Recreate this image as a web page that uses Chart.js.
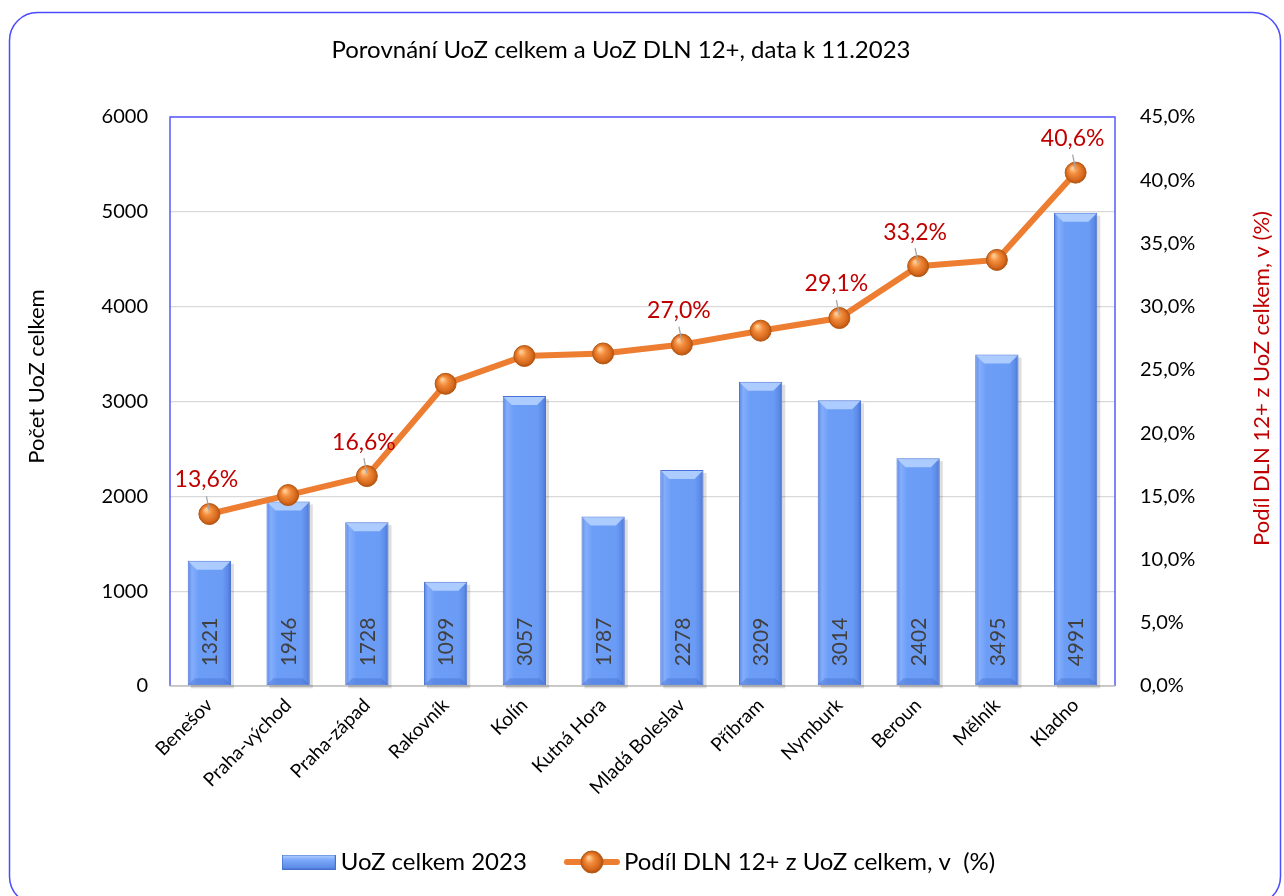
<!DOCTYPE html>
<html lang="cs">
<head>
<meta charset="utf-8">
<title>Porovnání UoZ celkem a UoZ DLN 12+</title>
<script src="https://cdn.jsdelivr.net/npm/chart.js@4.4.1/dist/chart.umd.min.js"></script>
<style>
  html, body { margin: 0; padding: 0; background: #fff; }
  #wrap { width: 1284px; height: 896px; }
</style>
</head>
<body>
<div id="wrap"><canvas id="chartUoz" width="1284" height="896"></canvas></div>
<script>
const categories = ['Benešov', 'Praha-východ', 'Praha-západ', 'Rakovník', 'Kolín', 'Kutná Hora',
    'Mladá Boleslav', 'Příbram', 'Nymburk', 'Beroun', 'Mělník', 'Kladno'];
const uozCelkem = [1321, 1946, 1728, 1099, 3057, 1787, 2278, 3209, 3014, 2402, 3495, 4991];
const podilDln = [13.6, 15.1, 16.6, 23.9, 26.1, 26.3, 27.0, 28.1, 29.1, 33.2, 33.7, 40.6];
// points that carry a percentage label in the original
const labeledPoints = [0, 2, 6, 8, 9, 11];

const chartTitle = 'Porovnání UoZ celkem a UoZ DLN 12+, data k 11.2023';
const leftTitle = 'Počet UoZ celkem';
const rightTitle = 'Podíl DLN 12+ z UoZ celkem, v (%)';

const FONT = 'Lato, "Open Sans", sans-serif';
const ORANGE = '#ED7D31';
const RED = '#C00000';
const BAR_PCT = 0.55;

Chart.defaults.font.family = FONT;

const fmtPct = (v) => v.toFixed(1).replace('.', ',') + '%';

function barFill(ctx) {
    const chart = ctx.chart;
    const xs = chart.scales.x;
    if (ctx.type !== 'data' || !xs || !chart.chartArea) return '#6b9cf5';
    const cx = xs.getPixelForValue(ctx.dataIndex);
    const half = xs.width / categories.length * BAR_PCT / 2;
    const g = chart.ctx.createLinearGradient(cx - half, 0, cx + half, 0);
    g.addColorStop(0, '#5a86e0');
    g.addColorStop(0.1, '#84aefc');
    g.addColorStop(0.25, '#6d9ef7');
    g.addColorStop(0.8, '#6a9bf5');
    g.addColorStop(0.92, '#5c8be8');
    g.addColorStop(1, '#4a72cf');
    return g;
}

function ballGradient(c, x, y, r) {
    const g = c.createRadialGradient(x - r * 0.3, y - r * 0.4, 1, x, y, r);
    g.addColorStop(0, '#ffc990');
    g.addColorStop(0.35, '#f28c3c');
    g.addColorStop(0.8, '#d4661b');
    g.addColorStop(1, '#a94b0c');
    return g;
}

function ballFill(ctx) {
    const chart = ctx.chart;
    if (ctx.type !== 'data' || !chart.scales.y1 || !chart.chartArea) return ORANGE;
    const x = chart.scales.x.getPixelForValue(ctx.dataIndex);
    const y = chart.scales.y1.getPixelForValue(podilDln[ctx.dataIndex]);
    return ballGradient(chart.ctx, x, y, 11);
}

function makeBarIcon() {
    const c = document.createElement('canvas');
    c.width = 54; c.height = 15;
    const g = c.getContext('2d');
    const grad = g.createLinearGradient(0, 0, 0, 15);
    grad.addColorStop(0, '#bcd5ff');
    grad.addColorStop(0.35, '#7eaafb');
    grad.addColorStop(1, '#5585e3');
    g.fillStyle = grad;
    g.fillRect(0.5, 0.5, 53, 14);
    g.strokeStyle = '#4670cf';
    g.strokeRect(0.5, 0.5, 53, 14);
    return c;
}

function makeLineIcon() {
    const c = document.createElement('canvas');
    c.width = 58; c.height = 26;
    const g = c.getContext('2d');
    g.strokeStyle = ORANGE;
    g.lineWidth = 6;
    g.lineCap = 'round';
    g.beginPath(); g.moveTo(4, 13); g.lineTo(54, 13); g.stroke();
    g.beginPath(); g.arc(29, 13, 11, 0, Math.PI * 2);
    g.fillStyle = ballGradient(g, 29, 13, 11);
    g.fill();
    g.strokeStyle = '#b35a14'; g.lineWidth = 1; g.stroke();
    return c;
}

const barIcon = makeBarIcon();
const lineIcon = makeLineIcon();

// rounded outer frame, title, plot area border
const frame = {
    id: 'frame',
    beforeDraw(chart) {
        const c = chart.ctx;
        c.save();
        c.strokeStyle = '#4b4bff';
        c.lineWidth = 1.5;
        c.beginPath();
        c.roundRect(9.5, 12.5, 1271, 892, 28);
        c.stroke();
        c.font = '24px ' + FONT;
        c.fillStyle = '#000';
        c.textAlign = 'center';
        c.textBaseline = 'middle';
        c.fillText(chartTitle, 621, 50);
        c.restore();
    },
    beforeDatasetsDraw(chart) {
        const {left, top, right, bottom} = chart.chartArea;
        const c = chart.ctx;
        c.save();
        c.strokeStyle = '#5a5aff';
        c.lineWidth = 1.5;
        c.beginPath();
        c.moveTo(left, bottom); c.lineTo(left, top); c.lineTo(right, top); c.lineTo(right, bottom);
        c.stroke();
        c.strokeStyle = '#bfbfbf';
        c.beginPath(); c.moveTo(left, bottom); c.lineTo(right, bottom); c.stroke();
        c.restore();
    }
};

// soft shadow behind bars, bevels on top/bottom, vertical value label inside
const barDecor = {
    id: 'barDecor',
    beforeDatasetDraw(chart, args) {
        if (args.meta.type !== 'bar') return;
        const c = chart.ctx;
        c.save();
        c.fillStyle = 'rgba(0, 0, 0, 0.13)';
        args.meta.data.forEach((bar) => {
            const {x, y, base, width} = bar.getProps(['x', 'y', 'base', 'width'], true);
            c.fillRect(x - width / 2 + 3, y + 3, width, base - y);
        });
        c.restore();
    },
    afterDatasetDraw(chart, args) {
        if (args.meta.type !== 'bar') return;
        const c = chart.ctx;
        args.meta.data.forEach((bar, i) => {
            const {x, y, base, width} = bar.getProps(['x', 'y', 'base', 'width'], true);
            const l = x - width / 2, r = x + width / 2;
            const bev = Math.min(9, (base - y) / 2);
            c.save();
            c.beginPath();
            c.moveTo(l + 1, y + 1); c.lineTo(r - 1, y + 1);
            c.lineTo(r - bev, y + bev); c.lineTo(l + bev, y + bev);
            c.closePath();
            c.fillStyle = 'rgba(180, 208, 255, 0.9)';
            c.fill();
            c.beginPath();
            c.moveTo(l + 1, base - 1); c.lineTo(r - 1, base - 1);
            c.lineTo(r - 7, base - 7); c.lineTo(l + 7, base - 7);
            c.closePath();
            c.fillStyle = 'rgba(60, 100, 200, 0.35)';
            c.fill();
            c.translate(x, base - 19);
            c.rotate(-Math.PI / 2);
            c.font = '21px ' + FONT;
            c.fillStyle = '#404040';
            c.textAlign = 'left';
            c.textBaseline = 'middle';
            c.fillText(String(uozCelkem[i]), 0, 1);
            c.restore();
        });
    }
};

// red percentage labels with short grey leader lines
const lineLabels = {
    id: 'lineLabels',
    afterDatasetsDraw(chart) {
        const meta = chart.getDatasetMeta(1);
        const c = chart.ctx;
        c.save();
        labeledPoints.forEach((i) => {
            const pt = meta.data[i];
            c.strokeStyle = '#a6a6a6';
            c.lineWidth = 1.3;
            c.beginPath(); c.moveTo(pt.x - 3, pt.y - 18); c.lineTo(pt.x, pt.y - 3); c.stroke();
            c.font = '23px ' + FONT;
            c.fillStyle = RED;
            c.textAlign = 'center';
            c.textBaseline = 'middle';
            c.fillText(fmtPct(podilDln[i]), pt.x - 3, pt.y - 34);
        });
        c.restore();
    }
};

// axis titles (right one reads bottom-to-top like the original)
const axisTitles = {
    id: 'axisTitles',
    afterDraw(chart) {
        const c = chart.ctx;
        const {top, bottom} = chart.chartArea;
        const mid = (top + bottom) / 2;
        c.save();
        c.font = '22px ' + FONT;
        c.textAlign = 'center';
        c.textBaseline = 'middle';
        c.translate(37, mid - 25);
        c.rotate(-Math.PI / 2);
        c.fillStyle = '#000';
        c.fillText(leftTitle, 0, 0);
        c.restore();
        c.save();
        c.font = '22px ' + FONT;
        c.textAlign = 'center';
        c.textBaseline = 'middle';
        c.translate(chart.width - 22, mid - 23);
        c.rotate(-Math.PI / 2);
        c.fillStyle = RED;
        c.fillText(rightTitle, 0, 0);
        c.restore();
    }
};

new Chart(document.getElementById('chartUoz'), {
    data: {
        labels: categories,
        datasets: [
            {
                type: 'bar',
                label: 'UoZ celkem 2023',
                data: uozCelkem,
                yAxisID: 'y',
                order: 2,
                backgroundColor: barFill,
                borderColor: '#4a72d6',
                borderWidth: 1,
                borderSkipped: false,
                barPercentage: BAR_PCT,
                categoryPercentage: 1.0,
            },
            {
                type: 'line',
                label: 'Podíl DLN 12+ z UoZ celkem, v  (%)',
                data: podilDln,
                yAxisID: 'y1',
                order: 1,
                borderColor: ORANGE,
                borderWidth: 6,
                pointRadius: 10.5,
                pointBackgroundColor: ballFill,
                pointBorderColor: '#b35a14',
                pointBorderWidth: 1,
                tension: 0,
            },
        ],
    },
    options: {
        responsive: false,
        animation: false,
        layout: { padding: { top: 117, left: 0, right: 0, bottom: 12 } },
        plugins: {
            title: { display: false },
            legend: {
                position: 'bottom',
                labels: {
                    usePointStyle: true,
                    pointStyleWidth: 40,
                    padding: 45,
                    color: '#404040',
                    font: { size: 24 },
                    generateLabels: () => [
                        { text: 'UoZ celkem 2023', datasetIndex: 0, pointStyle: barIcon,
                          fillStyle: 'transparent', strokeStyle: 'transparent', lineWidth: 0, hidden: false },
                        { text: 'Podíl DLN 12+ z UoZ celkem, v  (%)', datasetIndex: 1, pointStyle: lineIcon,
                          fillStyle: 'transparent', strokeStyle: 'transparent', lineWidth: 0, hidden: false },
                    ],
                },
            },
            tooltip: { enabled: false },
        },
        scales: {
            x: {
                grid: { display: false, drawTicks: false },
                border: { display: false },
                ticks: { minRotation: 45, maxRotation: 45, color: '#000', font: { size: 19 }, padding: 8 },
                afterFit(scale) { scale.height = 119; },
            },
            y: {
                position: 'left',
                min: 0,
                max: 6000,
                ticks: { stepSize: 1000, padding: 22, color: '#000', font: { size: 20 }, callback: (v) => String(v) },
                grid: { color: '#d9d9d9', lineWidth: 1.3, drawTicks: false },
                border: { display: false },
                afterFit(scale) { scale.width = 170; },
            },
            y1: {
                position: 'right',
                min: 0,
                max: 45,
                ticks: { stepSize: 5, padding: 25, color: '#000', font: { size: 20 }, callback: (v) => fmtPct(v) },
                grid: { display: false, drawTicks: false },
                border: { display: false },
                afterFit(scale) { scale.width = 169; },
            },
        },
    },
    plugins: [frame, barDecor, lineLabels, axisTitles],
});
</script>
</body>
</html>
